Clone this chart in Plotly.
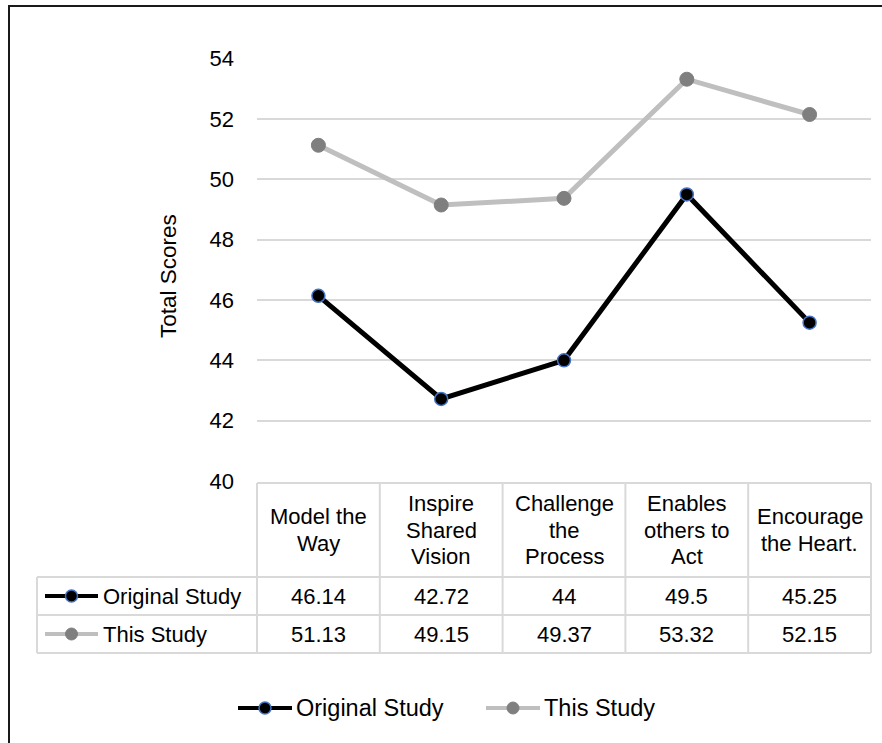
import plotly.graph_objects as go

# Leadership practice categories (header labels wrap the same way as in the table)
categories = [
    "Model the<br>Way",
    "Inspire<br>Shared<br>Vision",
    "Challenge<br>the<br>Process",
    "Enables<br>others to<br>Act",
    "Encourage<br>the Heart.",
]
original_study = [46.14, 42.72, 44, 49.5, 45.25]
this_study = [51.13, 49.15, 49.37, 53.32, 52.15]
series_names = ["Original Study", "This Study"]
y_ticks = [40, 42, 44, 46, 48, 50, 52, 54]

W, H = 882, 743
FONT = "Liberation Sans, Arial, sans-serif"
FS = 22
FS_LEGEND = 23.5
GRID = "#d9d9d9"

X_DOM = [257 / W, 871 / W]
Y_DOM = [1 - 481 / H, 1 - 58.7 / H]

ORIG_LINE = "#000000"
ORIG_EDGE = "#4472c4"
THIS_LINE = "#bfbfbf"
THIS_MARK = "#7f7f7f"


def px_x(p):
    return p / W


def px_y(p):
    return 1 - p / H


def cat_x(pos):
    """Category position (index units) -> paper x."""
    n = len(categories)
    return X_DOM[0] + (pos + 0.5) / n * (X_DOM[1] - X_DOM[0])


fig = go.Figure()
fig.add_trace(go.Scatter(
    x=categories, y=original_study, name=series_names[0], mode="lines+markers",
    line=dict(color=ORIG_LINE, width=5),
    marker=dict(size=13, color=ORIG_LINE, line=dict(color=ORIG_EDGE, width=1.5)),
    showlegend=False,
))
fig.add_trace(go.Scatter(
    x=categories, y=this_study, name=series_names[1], mode="lines+markers",
    line=dict(color=THIS_LINE, width=5),
    marker=dict(size=14, color=THIS_MARK, line=dict(color=THIS_MARK, width=1)),
    showlegend=False,
))

shapes = []
annotations = []

# Outer chart frame
shapes.append(dict(type="rect", xref="paper", yref="paper",
                   x0=px_x(9), x1=px_x(W + 20), y0=px_y(H + 20), y1=px_y(6),
                   line=dict(color="#1a1a1a", width=2)))

# Data table grid
t_top, t_head, t_row1, t_row2 = 483, 577, 615, 653
key_left = 37
line_style = dict(color=GRID, width=2)
n = len(categories)
# vertical lines at category boundaries
for k in range(n + 1):
    xb = cat_x(k - 0.5)
    shapes.append(dict(type="line", xref="paper", yref="paper",
                       x0=xb, x1=xb, y0=px_y(t_top), y1=px_y(t_row2), line=line_style))
# key column left edge
shapes.append(dict(type="line", xref="paper", yref="paper",
                   x0=px_x(key_left), x1=px_x(key_left), y0=px_y(t_head), y1=px_y(t_row2),
                   line=line_style))
# horizontal lines
shapes.append(dict(type="line", xref="paper", yref="paper",
                   x0=cat_x(-0.5), x1=cat_x(n - 0.5), y0=px_y(t_top), y1=px_y(t_top),
                   line=line_style))
for yy in (t_head, t_row1, t_row2):
    shapes.append(dict(type="line", xref="paper", yref="paper",
                       x0=px_x(key_left), x1=cat_x(n - 0.5), y0=px_y(yy), y1=px_y(yy),
                       line=line_style))

# Header labels, one annotation per wrapped line
line_gap = 26.5
head_mid = (t_top + t_head) / 2
for i, c in enumerate(categories):
    parts = c.split("<br>")
    for j, part in enumerate(parts):
        yc = head_mid + (j - (len(parts) - 1) / 2) * line_gap
        annotations.append(dict(x=cat_x(i), y=px_y(yc), xref="paper", yref="paper",
                                text=part, showarrow=False, xanchor="center",
                                yanchor="middle",
                                font=dict(family=FONT, size=FS, color="black")))

# Values rows
rows = [(original_study, (t_head + t_row1) / 2), (this_study, (t_row1 + t_row2) / 2)]
for vals, yc in rows:
    for i, v in enumerate(vals):
        annotations.append(dict(x=cat_x(i), y=px_y(yc), xref="paper", yref="paper",
                                text=f"{v:g}", showarrow=False, xanchor="center",
                                yanchor="middle", font=dict(family=FONT, size=FS, color="black")))


def legend_key(x_left, yc, width, line_color, line_w, fill, edge, edge_w, size):
    shapes.append(dict(type="line", xref="paper", yref="paper",
                       x0=px_x(x_left), x1=px_x(x_left + width), y0=px_y(yc), y1=px_y(yc),
                       line=dict(color=line_color, width=line_w)))
    r = size / 2
    shapes.append(dict(type="circle", xref="paper", yref="paper",
                       xsizemode="pixel", ysizemode="pixel",
                       xanchor=px_x(x_left + width / 2), yanchor=px_y(yc),
                       x0=-r, x1=r, y0=-r, y1=r,
                       fillcolor=fill, line=dict(color=edge, width=edge_w)))


styles = [
    dict(line_color=ORIG_LINE, line_w=4, fill=ORIG_LINE, edge=ORIG_EDGE, edge_w=1.5, size=12),
    dict(line_color=THIS_LINE, line_w=4, fill=THIS_MARK, edge=THIS_MARK, edge_w=1, size=12),
]

# Series keys inside the table
for (vals, yc), name, st in zip(rows, series_names, styles):
    legend_key(45, yc, 53, **st)
    annotations.append(dict(x=px_x(101), y=px_y(yc), xref="paper", yref="paper",
                            text=name, showarrow=False, xanchor="left", yanchor="middle",
                            font=dict(family=FONT, size=FS, color="black")))

# Bottom legend
leg_y = 708
for x_left, name, st in zip((238, 486), series_names, styles):
    legend_key(x_left, leg_y, 54, **st)
    annotations.append(dict(x=px_x(x_left + 56), y=px_y(leg_y), xref="paper", yref="paper",
                            text=name, showarrow=False, xanchor="left", yanchor="middle",
                            font=dict(family=FONT, size=FS_LEGEND, color="black")))

# Y axis title
annotations.append(dict(x=px_x(168), y=px_y(276), xref="paper", yref="paper",
                        text="Total Scores", textangle=-90, showarrow=False,
                        xanchor="center", yanchor="middle",
                        font=dict(family=FONT, size=22.5, color="black")))

fig.update_layout(
    width=W, height=H,
    margin=dict(l=0, r=0, t=0, b=0),
    paper_bgcolor="white", plot_bgcolor="white",
    font=dict(family=FONT, size=FS, color="black"),
    xaxis=dict(domain=X_DOM, range=[-0.5, n - 0.5], showticklabels=False,
               showgrid=False, zeroline=False, showline=False, ticks="",
               automargin=False),
    yaxis=dict(domain=Y_DOM, range=[40, 54], tickvals=y_ticks,
               showgrid=True, gridcolor=GRID, gridwidth=1.5, zeroline=False,
               showline=False, ticks="", ticklabelstandoff=22, automargin=False,
               tickfont=dict(family=FONT, size=FS, color="black")),
    shapes=shapes,
    annotations=annotations,
)

fig.write_html("out.html")
